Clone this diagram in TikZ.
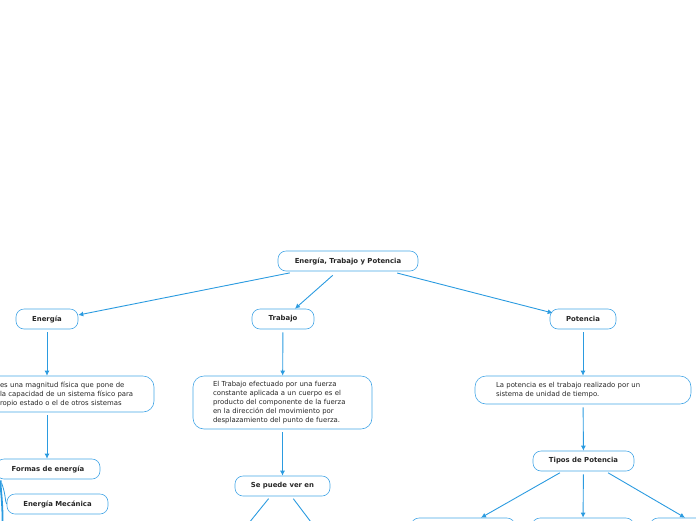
\documentclass[tikz,border=0pt]{standalone}
\usepackage{fontspec}
\setmainfont{DejaVu Sans}
\usepackage{xcolor}
\usepackage{tikz}
\usetikzlibrary{arrows.meta,positioning}

\definecolor{mapblue}{HTML}{2B9BE0}
\definecolor{boxblue}{HTML}{45A6E6}

\begin{document}
\begin{tikzpicture}[
  x=1pt,y=-1pt,
  every node/.style={font=\fontsize{6.9}{9}\selectfont,text=black!85},
  topic/.style={draw=boxblue,line width=0.6pt,rounded corners=8pt,minimum height=20pt,inner sep=0pt,align=center,font=\fontsize{6.9}{9}\selectfont\bfseries},
  note/.style={draw=boxblue,line width=0.6pt,rounded corners=11pt,align=left,inner ysep=3pt},
  arr/.style={-{Latex[length=5pt,width=5pt]},draw=mapblue,line width=0.9pt,shorten <=3pt}
]
\useasboundingbox (0,0) rectangle (696,520);

% main topic
\node[topic,minimum width=140pt] (root) at (348,261) {Energía, Trabajo y Potencia};

% branches
\node[topic,minimum width=62pt] (energia) at (47,319) {Energía};
\node[topic,minimum width=62pt] (trabajo) at (283,319) {Trabajo};
\node[topic,minimum width=66pt] (potencia) at (583,319) {Potencia};

% descriptions
\node[note,text width=137pt,inner xsep=17pt,minimum height=36pt] (endef) at (68.5,394)
  {es una magnitud física que pone de\\la capacidad de un sistema físico para\\ropio estado o el de otros sistemas};
\node[note,text width=139pt,inner xsep=20pt,minimum height=53pt] (trdef) at (282.5,402.5)
  {El Trabajo efectuado por una fuerza\\constante aplicada a un cuerpo es el\\producto del componente de la fuerza\\en la dirección del movimiento por\\desplazamiento del punto de fuerza.};
\node[note,text width=174pt,inner xsep=21pt,minimum height=28pt] (podef) at (583,390)
  {La potencia es el trabajo realizado por un\\sistema de unidad de tiempo.};

% sub topics
\node[topic,minimum width=104pt] (formas) at (48,469) {Formas de energía};
\node[topic,minimum width=101pt] (mecanica) at (57.5,504) {Energía Mecánica};
\node[topic,minimum width=95pt] (verse) at (282.5,486) {Se puede ver en};
\node[topic,minimum width=101pt] (tipos) at (583.5,461) {Tipos de Potencia};

% cut off at the bottom
\node[topic,minimum width=104pt] (tipoa) at (463,528) {};
\node[topic,minimum width=102pt] (tipob) at (583,528) {};
\node[topic,minimum width=100pt] (tipoc) at (700,528) {};
\coordinate (vera) at (240,534);
\coordinate (verb) at (320,534);
\coordinate (formasdown) at (2,540);

\draw[arr] ([xshift=15pt,yshift=-1pt]root.south west) -- ([yshift=4pt]energia.east);
\draw[arr] ([xshift=-13pt,yshift=-2pt]root.south) -- ([xshift=12pt]trabajo.north);
\draw[arr] ([xshift=-24pt,yshift=-1pt]root.south east) -- ([xshift=3pt,yshift=6pt]potencia.west);

\draw[arr] (energia) -- (energia |- endef.north);
\draw[arr] (trabajo) -- (trdef);
\draw[arr] (potencia) -- (podef);
\draw[arr] (endef.south -| energia) -- (formas.north -| energia);
\draw[arr] (trdef) -- (verse);
\draw[arr] (podef) -- (tipos);

\draw[arr] ([xshift=-21pt]tipos.south) -- ([xshift=18pt]tipoa.north);
\draw[arr] (tipos) -- (tipob);
\draw[arr] ([xshift=22pt]tipos.south) -- ([xshift=-15pt]tipoc.north);

\draw[mapblue,line width=0.9pt,shorten <=3pt] ([xshift=-12pt]verse.south) -- (vera);
\draw[mapblue,line width=0.9pt,shorten <=3pt] ([xshift=9pt]verse.south) -- (verb);

% curved links below Formas de energia
\draw[mapblue,line width=1.8pt] ([xshift=5pt,yshift=-1pt]formas.south west) .. controls (0,490) and (4,505) .. (formasdown);
\draw[mapblue,line width=0.8pt] ([xshift=6pt,yshift=-4pt]formas.south west) .. controls (6,495) and (5,502) .. (mecanica.west);
\end{tikzpicture}
\end{document}
